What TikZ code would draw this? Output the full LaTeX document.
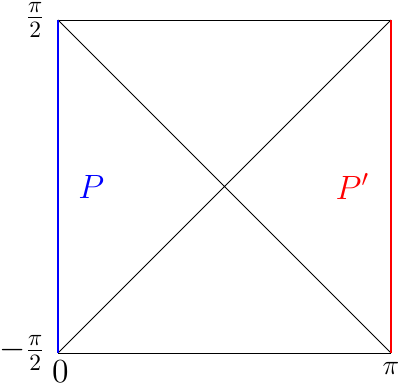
\documentclass[tikz,border=0pt]{standalone}
\begin{document}
\begin{tikzpicture}
\tikzset{edgeP/.style={blue,thick}, edgeQ/.style={red,thick}, lab/.style={font=\Large}}
\useasboundingbox (-0.871,-0.525) rectangle (5.15,5.30);
\coordinate (bl) at (0,0);
\coordinate (br) at (5,0);
\coordinate (tr) at (5,5);
\coordinate (tl) at (0,5);
\draw (bl) -- (br) (tr) -- (tl);
\draw (bl) -- (tr) (tl) -- (br);
\draw[edgeP] (bl) -- (tl);
\draw[edgeQ] (br) -- (tr);
\node[lab,left,inner ysep=0pt,xshift=-2pt] (top) at (tl) {\(\frac{\pi}{2}\)};
\node[lab,left,xshift=-2pt] (bot) at (bl) {\(-\frac{\pi}{2}\)};
\node[lab,below,inner sep=3pt,xshift=1pt] (zero) at (bl) {\(0\)};
\node[below,inner sep=4pt] (pi) at (br) {\large\(\pi\)};
\node[lab,blue] (P) at (0.5,2.5) {\(P\)};
\node[lab,red] (Pp) at (4.42,2.5) {\(P'\)};
\end{tikzpicture}
\end{document}
